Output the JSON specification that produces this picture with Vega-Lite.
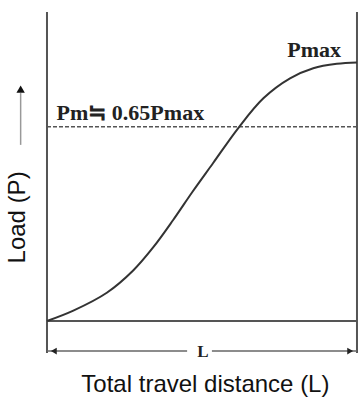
{
  "$schema": "https://vega.github.io/schema/vega-lite/v6.json",
  "width": 363,
  "height": 404,
  "autosize": {"type": "fit", "contains": "padding"},
  "padding": 0,
  "background": "white",
  "config": {"view": {"stroke": null}},
  "datasets": {
    "curve": [
      {"d": 0, "p": 0},
      {"d": 8.5, "p": 4.0},
      {"d": 19.3, "p": 10.9},
      {"d": 27.8, "p": 19.5},
      {"d": 34.3, "p": 28.5},
      {"d": 40.7, "p": 39.0},
      {"d": 47.0, "p": 50.0},
      {"d": 53.6, "p": 61.0},
      {"d": 61.7, "p": 74.5},
      {"d": 69.8, "p": 86.0},
      {"d": 78.4, "p": 93.7},
      {"d": 85.9, "p": 97.6},
      {"d": 93.5, "p": 99.3},
      {"d": 100, "p": 99.8}
    ],
    "frame_v": [
      {"x": 0, "y1": -12.4, "y2": 119.3},
      {"x": 100, "y1": -12.4, "y2": 119.3}
    ],
    "frame_h": [
      {"y": 0, "x1": 0, "x2": 100}
    ],
    "dim": [
      {"y": -11.6, "x1": 0, "x2": 45.2},
      {"y": -11.6, "x1": 53.2, "x2": 100}
    ],
    "pm": [
      {"y": 75, "x1": 0, "x2": 100}
    ],
    "yarrow": [
      {"x": -8.5, "y1": 68, "y2": 88}
    ],
    "yhead": [{"x": -8.5, "y": 89.5}],
    "lhead": [{"x": 2.2, "y": -11.6}],
    "rhead": [{"x": 97.8, "y": -11.6}],
    "serif": [
      {"x": 3.1, "y": 77.6, "t": "Pm≒ 0.65Pmax"},
      {"x": 77.5, "y": 102.0, "t": "Pmax"}
    ],
    "Llabel": [{"x": 50.3, "y": -12.0, "t": "L"}],
    "xtitle": [{"x": 51.1, "y": -27.4, "t": "Total travel distance (L)"}],
    "ytitle": [{"x": -9.2, "y": 40.0, "t": "Load (P)"}]
  },
  "layer": [
    {
      "data": {"name": "pm"},
      "mark": {"type": "rule", "color": "#555", "strokeWidth": 1.5, "strokeDash": [4, 2]},
      "encoding": {
        "y": {"field": "y", "type": "quantitative", "scale": {"domain": [-32.05, 123.94], "nice": false, "zero": false}, "axis": null},
        "x": {"field": "x1", "type": "quantitative", "scale": {"domain": [-15.16, 101.94], "nice": false, "zero": false}, "axis": null},
        "x2": {"field": "x2"}
      }
    },
    {
      "data": {"name": "frame_v"},
      "mark": {"type": "rule", "color": "#555", "strokeWidth": 2},
      "encoding": {
        "x": {"field": "x", "type": "quantitative"},
        "y": {"field": "y1", "type": "quantitative"},
        "y2": {"field": "y2"}
      }
    },
    {
      "data": {"name": "frame_h"},
      "mark": {"type": "rule", "color": "#555", "strokeWidth": 2},
      "encoding": {
        "y": {"field": "y", "type": "quantitative"},
        "x": {"field": "x1", "type": "quantitative"},
        "x2": {"field": "x2"}
      }
    },
    {
      "data": {"name": "dim"},
      "mark": {"type": "rule", "color": "#666", "strokeWidth": 1.5},
      "encoding": {
        "y": {"field": "y", "type": "quantitative"},
        "x": {"field": "x1", "type": "quantitative"},
        "x2": {"field": "x2"}
      }
    },
    {
      "data": {"name": "yarrow"},
      "mark": {"type": "rule", "color": "#999", "strokeWidth": 1.5},
      "encoding": {
        "x": {"field": "x", "type": "quantitative"},
        "y": {"field": "y1", "type": "quantitative"},
        "y2": {"field": "y2"}
      }
    },
    {
      "data": {"name": "yhead"},
      "mark": {"type": "point", "shape": "triangle-up", "filled": true, "color": "#111", "size": 70, "opacity": 1},
      "encoding": {
        "x": {"field": "x", "type": "quantitative"},
        "y": {"field": "y", "type": "quantitative"}
      }
    },
    {
      "data": {"name": "lhead"},
      "mark": {"type": "point", "shape": "triangle-left", "filled": true, "color": "#222", "size": 45, "opacity": 1},
      "encoding": {
        "x": {"field": "x", "type": "quantitative"},
        "y": {"field": "y", "type": "quantitative"}
      }
    },
    {
      "data": {"name": "rhead"},
      "mark": {"type": "point", "shape": "triangle-right", "filled": true, "color": "#222", "size": 45, "opacity": 1},
      "encoding": {
        "x": {"field": "x", "type": "quantitative"},
        "y": {"field": "y", "type": "quantitative"}
      }
    },
    {
      "data": {"name": "curve"},
      "mark": {"type": "line", "color": "#333", "strokeWidth": 2, "interpolate": "catmull-rom"},
      "encoding": {
        "x": {"field": "d", "type": "quantitative"},
        "y": {"field": "p", "type": "quantitative"}
      }
    },
    {
      "data": {"name": "serif"},
      "mark": {"type": "text", "font": "Liberation Serif", "fontWeight": "bold", "fontSize": 22, "align": "left", "baseline": "alphabetic", "color": "#222"},
      "encoding": {
        "x": {"field": "x", "type": "quantitative"},
        "y": {"field": "y", "type": "quantitative"},
        "text": {"field": "t"}
      }
    },
    {
      "data": {"name": "Llabel"},
      "mark": {"type": "text", "font": "Liberation Serif", "fontWeight": "bold", "fontSize": 17, "align": "center", "baseline": "middle", "color": "#222"},
      "encoding": {
        "x": {"field": "x", "type": "quantitative"},
        "y": {"field": "y", "type": "quantitative"},
        "text": {"field": "t"}
      }
    },
    {
      "data": {"name": "xtitle"},
      "mark": {"type": "text", "font": "Liberation Sans", "fontSize": 24, "align": "center", "baseline": "alphabetic", "color": "#111"},
      "encoding": {
        "x": {"field": "x", "type": "quantitative"},
        "y": {"field": "y", "type": "quantitative"},
        "text": {"field": "t"}
      }
    },
    {
      "data": {"name": "ytitle"},
      "mark": {"type": "text", "font": "Liberation Sans", "fontSize": 24, "align": "center", "baseline": "middle", "angle": 270, "color": "#111"},
      "encoding": {
        "x": {"field": "x", "type": "quantitative"},
        "y": {"field": "y", "type": "quantitative"},
        "text": {"field": "t"}
      }
    }
  ]
}
